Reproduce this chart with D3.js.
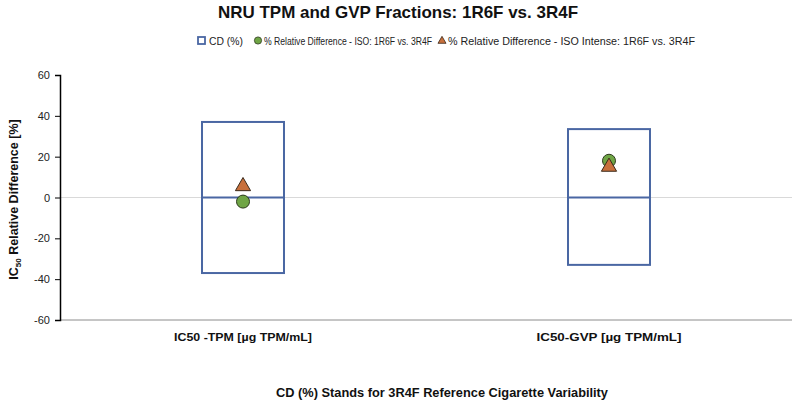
<!DOCTYPE html>
<meta charset="utf-8">
<script src="https://d3js.org/d3.v7.min.js"></script>
<style>
  body { margin: 0; background: #fff; }
  text { font-family: "Liberation Sans", Arial, sans-serif; }
</style>
<body>
<svg id="chart" width="794" height="401"></svg>
<script>
  // data
  var categories = ["IC50 -TPM [\u00b5g TPM/mL]", "IC50-GVP [\u00b5g TPM/mL]"];
  var cdHigh = [37, 33.5];
  var cdLow = [-37, -33];
  var isoDiff = [-2, 18];
  var intenseDiff = [5.5, 15];
  var yTicks = [-60, -40, -20, 0, 20, 40, 60];

  var svg = d3.select("#chart"),
      width = +svg.attr("width"),
      height = +svg.attr("height");

  var margin = {top: 75, right: 2, bottom: 81, left: 60};

  var x = d3.scaleBand()
      .domain(categories)
      .range([margin.left, width - margin.right]);

  var y = d3.scaleLinear()
      .domain([-60, 60])
      .range([height - margin.bottom, margin.top]);

  // squeeze text to the narrow widths of the original font
  function fit(sel, w) {
    sel.attr("textLength", w).attr("lengthAdjust", "spacingAndGlyphs");
  }

  // zero gridline
  svg.append("line")
      .attr("x1", margin.left).attr("x2", width - margin.right)
      .attr("y1", y(0)).attr("y2", y(0))
      .attr("stroke", "#d9d9d9").attr("stroke-width", 1);

  // bottom axis line
  svg.append("line")
      .attr("x1", margin.left).attr("x2", width - margin.right)
      .attr("y1", y(-60)).attr("y2", y(-60))
      .attr("stroke", "#8c8c8c").attr("stroke-width", 1);

  // y axis
  var yAxis = svg.append("g")
      .attr("transform", "translate(" + margin.left + ",0)")
      .call(d3.axisLeft(y).tickValues(yTicks).tickSize(5).tickPadding(5)
        .tickFormat(function(d){ return String(d) }));
  yAxis.select(".domain").attr("stroke", "#000").attr("stroke-width", 1.5);
  yAxis.selectAll(".tick line").attr("stroke", "#000");
  yAxis.selectAll("text").style("font-size", "11px").attr("fill", "#222")
      .style("font-family", "'Liberation Sans', Arial, sans-serif");

  // category labels
  var catW = [138, 145];
  svg.append("g")
    .selectAll("text")
    .data(categories)
    .enter()
    .append("text")
      .attr("x", function(d){ return x(d) + x.bandwidth()/2 })
      .attr("y", y(-60) + 21)
      .attr("text-anchor", "middle")
      .style("font-size", "11.5px")
      .style("font-weight", "bold")
      .attr("fill", "#111")
      .attr("textLength", function(d, i){ return catW[i] })
      .attr("lengthAdjust", "spacingAndGlyphs")
      .text(function(d){ return d });

  // CD boxes
  var boxW = x.bandwidth() * 0.224;
  var boxes = svg.append("g");
  categories.forEach(function(c, i) {
    var cx = x(c) + x.bandwidth()/2;
    boxes.append("rect")
        .attr("x", cx - boxW/2)
        .attr("y", y(cdHigh[i]))
        .attr("width", boxW)
        .attr("height", y(cdLow[i]) - y(cdHigh[i]))
        .attr("fill", "none")
        .attr("stroke", "#4a67a3")
        .attr("stroke-width", 2);
    boxes.append("line")
        .attr("x1", cx - boxW/2).attr("x2", cx + boxW/2)
        .attr("y1", y(0)).attr("y2", y(0))
        .attr("stroke", "#4a67a3")
        .attr("stroke-width", 2);
  });

  var tri = d3.symbol().type(d3.symbolTriangle).size(100);

  // ISO intense triangle, first category (behind nothing)
  svg.append("path")
      .attr("d", tri)
      .attr("transform", "translate(" + (x(categories[0]) + x.bandwidth()/2) + "," + y(intenseDiff[0]) + ")")
      .attr("fill", "#c8703c")
      .attr("stroke", "#3a2a1a")
      .attr("stroke-width", 1);

  // ISO circles
  svg.append("g")
    .selectAll("circle")
    .data(isoDiff)
    .enter()
    .append("circle")
      .attr("cx", function(d, i){ return x(categories[i]) + x.bandwidth()/2 })
      .attr("cy", function(d){ return y(d) })
      .attr("r", 6.5)
      .attr("fill", "#6fa545")
      .attr("stroke", "#2d3a1e")
      .attr("stroke-width", 1);

  // triangle on top of circle for second category (as in the picture)
  svg.append("path")
      .attr("d", tri)
      .attr("transform", "translate(" + (x(categories[1]) + x.bandwidth()/2) + "," + y(intenseDiff[1]) + ")")
      .attr("fill", "#c8703c")
      .attr("stroke", "#3a2a1a")
      .attr("stroke-width", 1);

  // title
  svg.append("text")
      .attr("x", 398).attr("y", 18)
      .attr("text-anchor", "middle")
      .style("font-size", "17px")
      .style("font-weight", "bold")
      .attr("fill", "#111")
      .call(fit, 360)
      .text("NRU TPM and GVP Fractions: 1R6F vs. 3R4F");

  // legend
  var lg = svg.append("g").style("font-size", "10px");
  lg.append("rect").attr("x", 198).attr("y", 37).attr("width", 7).attr("height", 7)
      .attr("fill", "#fff").attr("stroke", "#4a67a3").attr("stroke-width", 1.8);
  lg.append("text").attr("x", 209).attr("y", 44.5).attr("fill", "#222")
      .call(fit, 34).text("CD (%)");
  lg.append("circle").attr("cx", 258).attr("cy", 40.5).attr("r", 3.6)
      .attr("fill", "#6fa545").attr("stroke", "#2d3a1e").attr("stroke-width", 0.8);
  lg.append("text").attr("x", 264).attr("y", 44.5).attr("fill", "#222")
      .call(fit, 168).text("% Relative Difference - ISO: 1R6F vs. 3R4F");
  lg.append("path").attr("d", d3.symbol().type(d3.symbolTriangle).size(28))
      .attr("transform", "translate(442,41)")
      .attr("fill", "#c8703c").attr("stroke", "#3a2a1a").attr("stroke-width", 0.8);
  lg.append("text").attr("x", 448).attr("y", 44.5).attr("fill", "#222")
      .call(fit, 247).text("% Relative Difference - ISO Intense: 1R6F vs. 3R4F");

  // y axis title
  var yt = svg.append("text")
      .attr("transform", "translate(18," + (y(0) + 2) + ") rotate(-90)")
      .attr("text-anchor", "middle")
      .style("font-size", "12.5px")
      .style("font-weight", "bold")
      .attr("fill", "#111");
  yt.append("tspan").text("IC");
  yt.append("tspan").attr("dy", 3).style("font-size", "8px").text("50");
  yt.append("tspan").attr("dy", -3).text(" Relative Difference [%]");

  // footnote
  svg.append("text")
      .attr("x", 442).attr("y", 397)
      .attr("text-anchor", "middle")
      .style("font-size", "12.5px")
      .style("font-weight", "bold")
      .attr("fill", "#111")
      .call(fit, 332)
      .text("CD (%) Stands for 3R4F Reference Cigarette Variability");
</script>
</body>
